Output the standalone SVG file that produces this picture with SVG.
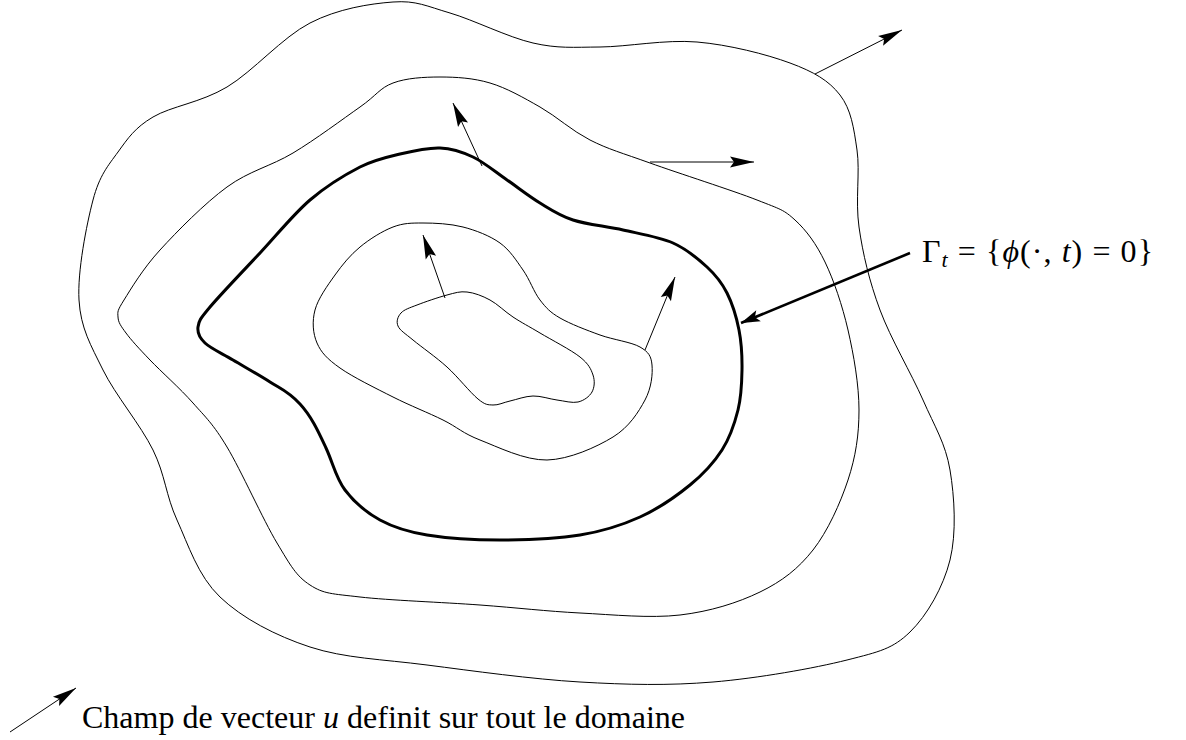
<svg xmlns="http://www.w3.org/2000/svg" width="1186" height="740" viewBox="0 0 1186 740">
<style>
.c{fill:none;stroke:#000;stroke-width:1}
.thick{fill:none;stroke:#000;stroke-width:3}
.a{fill:none;stroke:#000;stroke-width:1;marker-end:url(#ah)}
.at{fill:none;stroke:#000;stroke-width:2.6;marker-end:url(#aht)}
.t{font-family:"Liberation Serif","Times New Roman",serif;fill:#000}
</style>
<defs>
<marker id="ah" markerUnits="userSpaceOnUse" viewBox="-26 -7 27 14" refX="0" refY="0" markerWidth="27" markerHeight="14" orient="auto">
<path d="M0,0 L-24,-5.5 L-20,0 L-24,5.5 Z" fill="#000"/>
</marker>
<marker id="aht" markerUnits="userSpaceOnUse" viewBox="-22 -8 23 16" refX="0" refY="0" markerWidth="23" markerHeight="16" orient="auto">
<path d="M0,0 L-19,-6 L-15,0 L-19,6 Z" fill="#000"/>
</marker>
</defs>
<rect width="1186" height="740" fill="#fff"/>
<g id="level-outer">
<path class="c" d="M393,2 C416.3,0.3 426.7,6.2 450,13 S508,37.3 533,43 S572.7,47.2 600,47 S665.3,39.3 697,42 S766.2,54.2 790,63 S828.8,80.5 840,95 S853.8,128 857,150 S855.2,200.3 859,227 S869.3,281.2 880,310 S911.3,373.3 923,400 S945.5,443.3 950,470 S956.7,533 950,560 S927.2,615.3 910,632 S879.8,651.7 847,660 S757.5,678.3 713,682 S627.7,684.8 580,682 S472,670.8 427,665 S344.5,658.3 310,647 S242.2,618.2 220,597 S188.2,544.5 177,520 S165.3,475 153,450 S115.3,395 103,370 S80.7,328.3 79,300 S86.5,224.7 93,200 S108,165.8 118,152 S134.8,127.8 153,117 S200.8,102.7 227,87 S282.3,37.3 310,23 S369.7,3.7 393,2 Z"/>
</g>
<g id="level-2">
<path class="c" d="M440,77 C456.2,77 473.3,78 490,83 S523.3,97.5 540,107 S571.7,130.7 590,140 S622.2,153 650,163 S732.8,190.5 757,200 S783.7,209.7 795,220 S816.2,243.7 825,262 S842.3,305.3 848,330 S859,385 859,410 S855.7,456.7 848,480 S827.7,531.3 813,550 S782.2,581.2 760,592 S710,611.5 680,615 S613.3,614.7 580,613 S516.7,607.7 480,605 S388.3,600.3 360,597 S323.8,594 310,585 S290.8,566 277,543 S241,470.3 227,447 S205.8,417.5 193,403 S161.2,371.7 150,360 S131.3,340.2 126,333 S118.3,322.5 118,317 S117,311.2 124,300 S142.8,268.8 160,250 S204.8,203.2 227,187 S270.8,166.3 293,153 S343.3,118.7 360,107 S379.7,88 393,83 S423.8,77 440,77 Z"/>
</g>
<g id="gamma-t">
<path class="thick" d="M440,148 C452.2,148.5 461.8,151.7 473,157 S495.8,172.3 507,180 S529,196.3 540,203 S559.2,215.5 573,220 S606.3,226.2 623,230 S659,236.8 673,243 S698,258.7 707,267 S721.7,282.5 727,293 S736.5,317.2 739,330 S742.2,356.7 742,370 S741.3,396.7 738,410 S730,437.5 722,450 S703.7,473.8 690,485 S658.3,508.7 640,517 S603.3,531.2 580,535 S525.5,540 500,540 S447,538.3 427,535 S393.7,527.5 380,520 S354.2,502.2 345,490 S333,463 326,448 S312,417 300,404 S281.2,389.2 270,382 S243.8,366.5 233,360 S210.8,348.5 205,343 S197.2,333 198,327 S199.7,319.3 210,307 S243.3,270.8 260,253 S293.3,214.3 310,200 S345,174.7 360,167 S386.7,157.2 400,154 S427.8,147.5 440,148 Z"/>
</g>
<g id="level-3">
<path class="c" d="M423,223 C434.7,223 450.2,223.7 463,227 S490,235.8 500,243 S516.3,260.5 523,270 S533.8,292 540,300 S550,312.2 560,318 S586.7,330.2 600,335 S631.3,342 640,347 S651.2,356.2 652,365 S651.5,388 645,400 S629.3,427 613,437 S569.2,459.5 547,460 S497.3,446.7 480,440 S457.5,427.2 443,420 S410.2,405.7 393,397 S352.7,377 340,368 S321.2,352.7 317,343 S312,321.3 315,310 S327.5,285.5 335,275 S350.3,255 360,247 S382.5,231 393,227 S411.3,223 423,223 Z"/>
</g>
<g id="level-inner">
<path class="c" d="M467,292 C474.2,292.8 482.3,295.8 490,300 S504.7,311.5 513,317 S528.8,326.3 540,333 S571.2,350 580,357 S591,369.2 593,375 S594.5,387.5 592,392 S583.8,400.7 578,402 S564.5,401 557,400 S540.8,395.8 533,396 S516.7,399.5 510,401 S498.3,405.3 493,405 S485.7,405.3 478,399 S457.8,376.8 447,367 S421.2,346.8 413,340 S400,330.5 398,326 S397.8,316.5 401,313 S409.3,308 417,305 S438.7,297.2 447,295 S459.8,291.2 467,292 Z"/>
</g>
<g id="connectors">
<line class="a" x1="815" y1="74" x2="902" y2="30"/>
<line class="a" x1="650" y1="162" x2="754" y2="162"/>
<line class="a" x1="482" y1="166" x2="453" y2="103"/>
<line class="a" x1="445" y1="298" x2="423" y2="235"/>
<line class="a" x1="645" y1="350" x2="675" y2="277"/>
<line class="at" x1="910" y1="253" x2="741" y2="323"/>
<line class="a" x1="10" y1="732" x2="76" y2="688"/>
</g>
<g id="label-gamma">
<text class="t" x="922" y="262" font-size="32" textLength="231" lengthAdjust="spacing">Γ<tspan font-size="22" dy="5" font-style="italic">t</tspan><tspan dy="-5"> = {</tspan><tspan font-style="italic">ϕ</tspan>(·, <tspan font-style="italic">t</tspan>) = 0}</text>
</g>
<g id="label-legend">
<text class="t" x="82" y="728" font-size="32" textLength="603" lengthAdjust="spacing">Champ de vecteur <tspan font-style="italic">u</tspan> definit sur tout le domaine</text>
</g>
</svg>
